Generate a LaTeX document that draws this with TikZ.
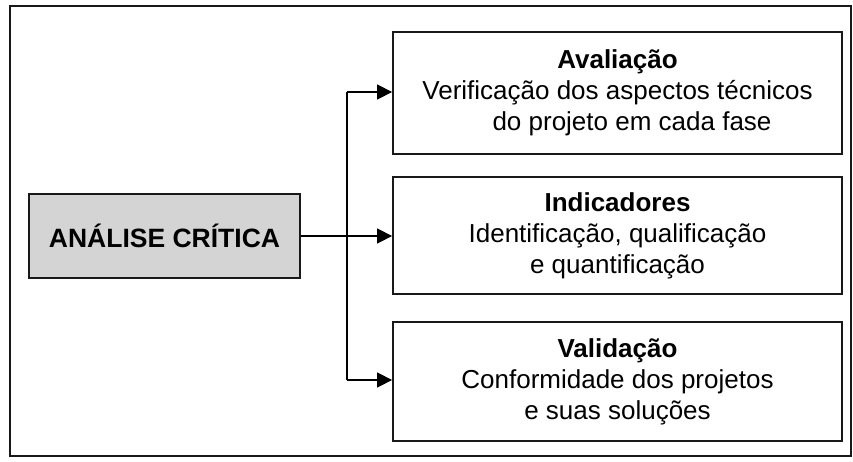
\documentclass[tikz,border=0pt]{standalone}
\usepackage{fontspec}
\setmainfont{Liberation Sans}
\usetikzlibrary{arrows.meta}
\begin{document}
\begin{tikzpicture}[x=1pt,y=-1pt,
  frame/.style={draw=black!90,line width=1.8pt},
  box/.style={draw=black!90,line width=1.8pt,inner sep=0pt,minimum width=449pt,align=center,
    font=\fontsize{26}{31}\selectfont},
  conn/.style={draw=black,line width=1.4pt},
  arr/.style={conn,-{Triangle[length=15pt,width=15pt]}}]
\useasboundingbox (0,0) rectangle (853,461);
\draw[frame] (10,6) rectangle (851,456);
\node[box,fill=black!17,minimum width=271pt,minimum height=84pt,
  font=\fontsize{26.5}{30}\selectfont\bfseries] (main) at (164.5,236) {ANÁLISE CRÍTICA};
\node[box,minimum height=122pt] (b1) at (617.5,93)
  {\textbf{Avaliação}\\Verificação dos aspectos técnicos\\\hspace*{29pt}do projeto em cada fase};
\node[box,minimum height=117pt] (b2) at (617.5,235.5)
  {\textbf{Indicadores}\\Identificação, qualificação\\e quantificação};
\node[box,minimum height=119pt] (b3) at (617.5,381.5)
  {\textbf{Validação}\\Conformidade dos projetos\\e suas soluções};
\coordinate (jt) at (347,92);
\coordinate (jb) at (347,380);
\draw[arr] (main.east) -- (b2.west |- main.east);
\draw[conn] (jt) -- (jb);
\draw[arr] (jt) -- (b1.west |- jt);
\draw[arr] (jb) -- (b3.west |- jb);
\end{tikzpicture}
\end{document}
